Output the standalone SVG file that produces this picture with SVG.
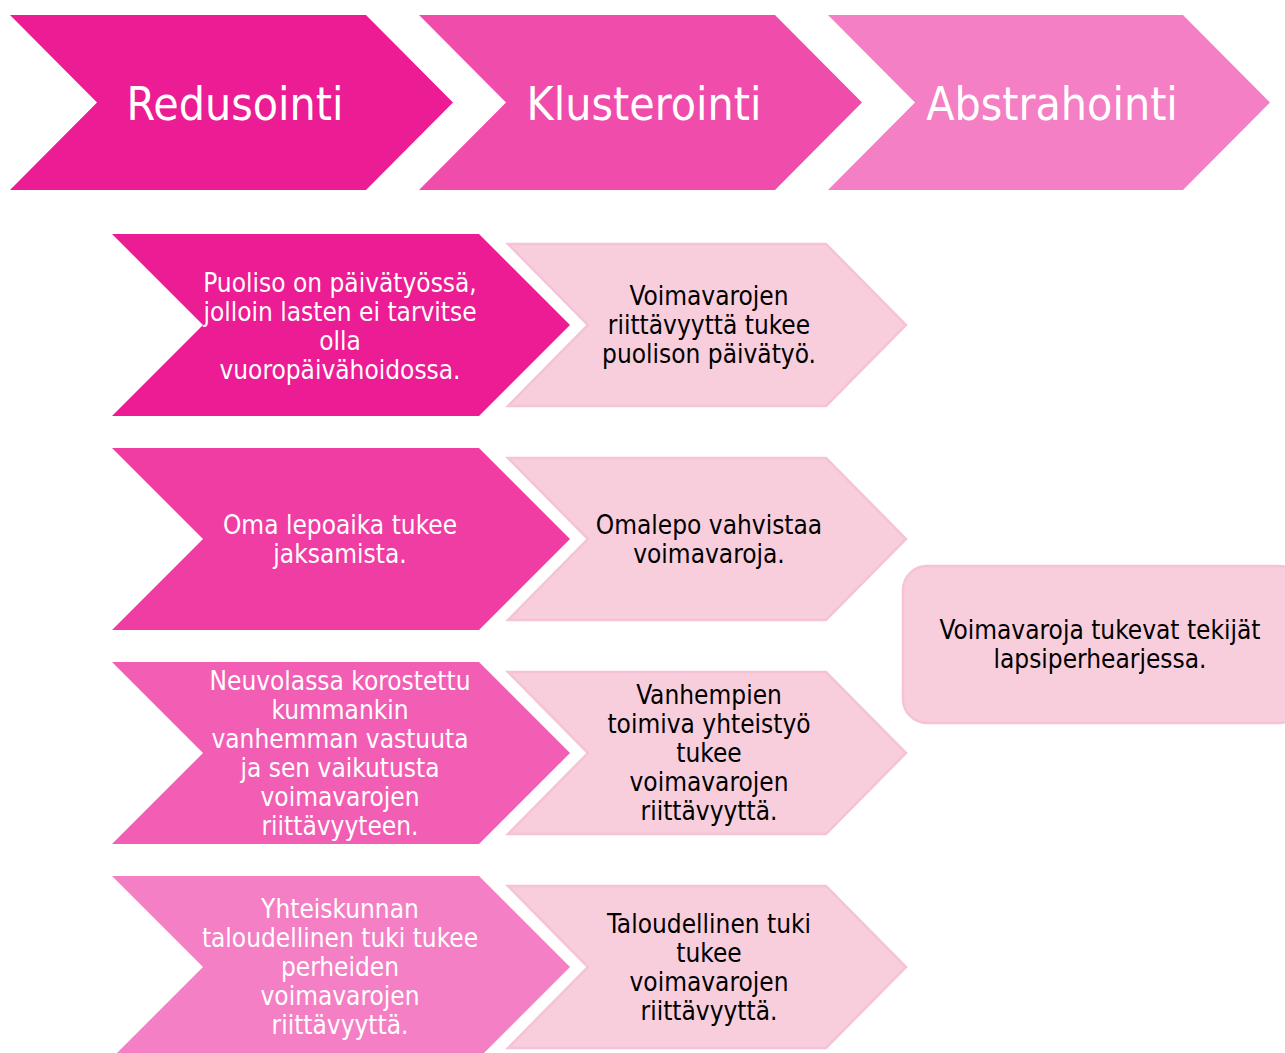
<svg xmlns="http://www.w3.org/2000/svg" width="1285" height="1053" viewBox="0 0 1285 1053">
<style>
.t{font-family:"DejaVu Sans","Liberation Sans",sans-serif;font-stretch:condensed;text-anchor:middle}
.h{font-size:46px;fill:#fff}
.w{font-size:26px;fill:#fff}
.b{font-size:26px;fill:#000}
.lt{fill:#F8CEDC;stroke:#F5C3D5;stroke-width:2.5}
</style>
<rect width="1285" height="1053" fill="#fff"/>
<g id="connectors"/>
<g id="n-redusointi">
<polygon points="10,15 366,15 453,102.5 366,190 10,190 97,102.5" fill="#EC1C94"/>
<text class="t h" x="235" y="120">Redusointi</text>
</g>
<g id="n-klusterointi">
<polygon points="419,15 775,15 862,102.5 775,190 419,190 506,102.5" fill="#F04CAC"/>
<text class="t h" x="644" y="120">Klusterointi</text>
</g>
<g id="n-abstrahointi">
<polygon points="828,15 1183,15 1270,102.5 1183,190 828,190 915,102.5" fill="#F47FC4"/>
<text class="t h" x="1052" y="120">Abstrahointi</text>
</g>
<g id="n-r1">
<polygon points="112,234 479,234 570,325 479,416 112,416 203,325" fill="#EC1C94"/>
<text class="t w"><tspan x="340" y="292">Puoliso on päivätyössä,</tspan><tspan x="340" y="321">jolloin lasten ei tarvitse</tspan><tspan x="340" y="350">olla</tspan><tspan x="340" y="379">vuoropäivähoidossa.</tspan></text>
</g>
<g id="n-k1">
<polygon class="lt" points="508,244 826,244 906,325 826,406 508,406 588,325"/>
<text class="t b"><tspan x="709" y="305">Voimavarojen</tspan><tspan x="709" y="334">riittävyyttä tukee</tspan><tspan x="709" y="363">puolison päivätyö.</tspan></text>
</g>
<g id="n-r2">
<polygon points="112,448 479,448 570,539 479,630 112,630 203,539" fill="#EF3DA4"/>
<text class="t w"><tspan x="340" y="534">Oma lepoaika tukee</tspan><tspan x="340" y="563">jaksamista.</tspan></text>
</g>
<g id="n-k2">
<polygon class="lt" points="508,458 826,458 906,539 826,620 508,620 588,539"/>
<text class="t b"><tspan x="709" y="534">Omalepo vahvistaa</tspan><tspan x="709" y="563">voimavaroja.</tspan></text>
</g>
<g id="n-r3">
<polygon points="112,662 479,662 570,753 479,844 112,844 203,753" fill="#F25EB4"/>
<text class="t w"><tspan x="340" y="690">Neuvolassa korostettu</tspan><tspan x="340" y="719">kummankin</tspan><tspan x="340" y="748">vanhemman vastuuta</tspan><tspan x="340" y="777">ja sen vaikutusta</tspan><tspan x="340" y="806">voimavarojen</tspan><tspan x="340" y="835">riittävyyteen.</tspan></text>
</g>
<g id="n-k3">
<polygon class="lt" points="508,672 826,672 906,753 826,834 508,834 588,753"/>
<text class="t b"><tspan x="709" y="704">Vanhempien</tspan><tspan x="709" y="733">toimiva yhteistyö</tspan><tspan x="709" y="762">tukee</tspan><tspan x="709" y="791">voimavarojen</tspan><tspan x="709" y="820">riittävyyttä.</tspan></text>
</g>
<g id="n-r4">
<polygon points="112,876 479,876 570,967 479,1058 112,1058 203,967" fill="#F47FC4"/>
<text class="t w"><tspan x="340" y="918">Yhteiskunnan</tspan><tspan x="340" y="947">taloudellinen tuki tukee</tspan><tspan x="340" y="976">perheiden</tspan><tspan x="340" y="1005">voimavarojen</tspan><tspan x="340" y="1034">riittävyyttä.</tspan></text>
</g>
<g id="n-k4">
<polygon class="lt" points="508,886 826,886 906,967 826,1048 508,1048 588,967"/>
<text class="t b"><tspan x="709" y="933">Taloudellinen tuki</tspan><tspan x="709" y="962">tukee</tspan><tspan x="709" y="991">voimavarojen</tspan><tspan x="709" y="1020">riittävyyttä.</tspan></text>
</g>
<g id="n-abs">
<rect class="lt" x="903" y="566" width="400" height="157" rx="24"/>
<text class="t b"><tspan x="1100" y="639">Voimavaroja tukevat tekijät</tspan><tspan x="1100" y="668">lapsiperhearjessa.</tspan></text>
</g>
</svg>
